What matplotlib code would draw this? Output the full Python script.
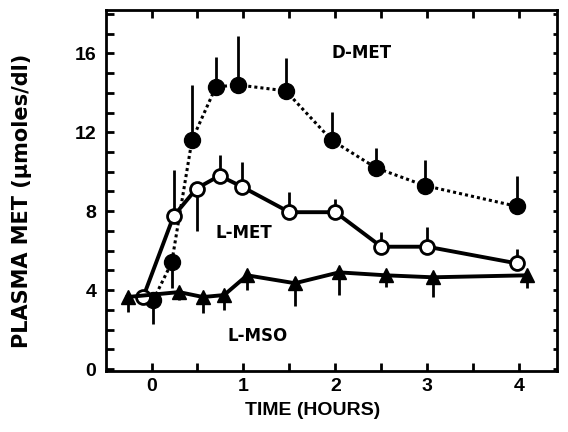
import matplotlib
matplotlib.use('Agg')
import matplotlib.pyplot as plt
from matplotlib.ticker import MultipleLocator

plt.rcParams['font.family'] = ['Liberation Sans', 'DejaVu Sans']
plt.rcParams['font.weight'] = 'bold'

# D-MET (filled circles, dotted)
d_t = [0.02, 0.22, 0.44, 0.70, 0.94, 1.46, 1.96, 2.44, 2.97, 3.97]
d_y = [3.5, 5.4, 11.6, 14.3, 14.4, 14.1, 11.6, 10.2, 9.3, 8.25]
d_up = [0.0, 0.0, 2.8, 1.5, 2.5, 1.65, 1.45, 1.0, 1.3, 1.55]
d_dn = [1.2, 1.3, 0.0, 0.0, 0.0, 0.0, 0.0, 0.0, 0.0, 0.0]

# L-MET (open circles, solid)
l_t = [-0.09, 0.24, 0.49, 0.74, 0.98, 1.50, 2.00, 2.50, 3.00, 3.98]
l_y = [3.65, 7.75, 9.15, 9.8, 9.25, 7.95, 7.95, 6.2, 6.2, 5.35]
l_up = [0.0, 2.35, 0.0, 1.05, 1.25, 1.0, 0.65, 0.75, 1.0, 0.75]
l_dn = [0.0, 0.0, 2.15, 0.0, 0.0, 0.0, 0.0, 0.0, 0.0, 0.0]

# L-MSO (triangles, solid)
m_t = [-0.26, 0.30, 0.56, 0.79, 1.04, 1.56, 2.04, 2.55, 3.06, 4.08]
m_y = [3.65, 3.9, 3.65, 3.75, 4.75, 4.35, 4.9, 4.75, 4.65, 4.75]
m_dn = [0.75, 0.4, 0.8, 0.75, 0.75, 1.15, 1.15, 0.6, 1.0, 0.65]
m_up = [0.0] * len(m_t)

fig = plt.figure(figsize=(5.68, 4.32), dpi=100)
ax = fig.add_axes([0.1866, 0.1412, 0.794, 0.8357])

ax.errorbar(d_t, d_y, yerr=[d_dn, d_up], fmt='none', ecolor='black', elinewidth=2, capsize=0, zorder=2)
ax.errorbar(l_t, l_y, yerr=[l_dn, l_up], fmt='none', ecolor='black', elinewidth=2, capsize=0, zorder=2)
ax.errorbar(m_t, m_y, yerr=[m_dn, m_up], fmt='none', ecolor='black', elinewidth=2, capsize=0, zorder=2)

ax.plot(d_t, d_y, color='black', linestyle=(0, (1, 1)), linewidth=2.2,
        marker='o', markersize=11.5, markerfacecolor='black', zorder=3)
ax.plot(l_t, l_y, color='black', linestyle='-', linewidth=2.8,
        marker='o', markersize=10, markerfacecolor='white', markeredgewidth=2, zorder=4)
ax.plot(m_t, m_y, color='black', linestyle='-', linewidth=2.8,
        marker='^', markersize=10.5, markerfacecolor='black', zorder=5)

lab_font = dict(ha='center', va='center', fontsize=12, fontweight='bold', family='DejaVu Sans')
ax.text(2.28, 16.0, 'D-MET', **lab_font)
ax.text(1.0, 6.9, 'L-MET', **lab_font)
ax.text(1.15, 1.67, 'L-MSO', **lab_font)

ax.set_xlim(-0.495, 4.41)
ax.set_ylim(-0.1, 18.2)
ax.set_xticks([0, 1, 2, 3, 4])
ax.set_yticks([0, 4, 8, 12, 16])
ax.xaxis.set_minor_locator(MultipleLocator(0.5))
ax.yaxis.set_minor_locator(MultipleLocator(1))
ax.tick_params(axis='both', which='both', direction='in', width=2, length=6,
               top=True, right=True, labelsize=14)
ax.tick_params(axis='x', pad=5)
ax.tick_params(axis='y', pad=7)
# short ticks on the right side
for t in ax.yaxis.get_major_ticks() + ax.yaxis.get_minor_ticks():
    t.tick2line.set_markersize(3)
for lab in ax.get_xticklabels() + ax.get_yticklabels():
    lab.set_fontweight('bold')
for s in ax.spines.values():
    s.set_linewidth(2)

ax.set_xlabel('TIME (HOURS)', fontsize=14, fontweight='bold')
ax.xaxis.set_label_coords(0.459, -0.085)
ax.set_ylabel('PLASMA MET (\u00b5moles/dl)', fontsize=15, fontweight='bold', family='DejaVu Sans')
ax.yaxis.set_label_coords(-0.165, 0.47)

fig.savefig('out.png', dpi=100)
